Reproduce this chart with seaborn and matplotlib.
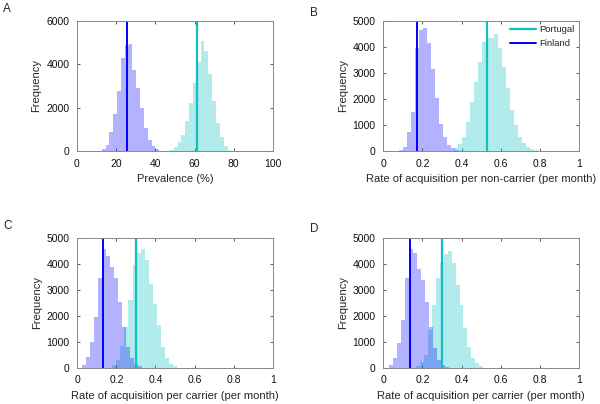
import numpy as np
import pandas as pd
import matplotlib
matplotlib.use("Agg")
import matplotlib.pyplot as plt
import seaborn as sns

# ---------------- data ----------------
# Panel A: prevalence (%)
a_fin_start, a_fin_width = 12.6, 1.96
a_fin_counts = [100, 290, 900, 1700, 2760, 4310, 4900, 4950, 3750, 2890, 1990, 1080, 525, 240, 90]
a_por_start, a_por_width = 47.4, 1.96
a_por_counts = [60, 170, 420, 750, 1400, 2200, 3150, 4110, 5080, 4620, 3560, 2330, 1310, 640, 215, 65]
a_lines = {"Finland": 25.5, "Portugal": 61.0}

# Panel B: rate of acquisition per non-carrier
b_fin_start, b_fin_width = 0.082, 0.0204
b_fin_counts = [50, 165, 715, 1500, 3950, 4640, 4720, 4150, 3150, 2020, 1030, 550, 230, 100, 40]
b_por_start, b_por_width = 0.36, 0.0204
b_por_counts = [110, 260, 550, 1100, 1880, 2660, 3400, 4190, 4350, 4350, 4480, 3940, 3240,
                2400, 1570, 1000, 550, 300, 165, 75, 40]
b_lines = {"Finland": 0.17, "Portugal": 0.532}

# Panel C: rate of acquisition per carrier
c_fin_start, c_fin_width = 0.024, 0.0205
c_fin_counts = [95, 400, 970, 1940, 3440, 4550, 4300, 3880, 3450, 2530, 1560, 800, 360, 155, 50]
c_por_start, c_por_width = 0.18, 0.0205
c_por_counts = [90, 300, 850, 1550, 2600, 3950, 4420, 4550, 4130, 3230, 2460, 1630, 800, 370, 150, 60]
c_lines = {"Finland": 0.13, "Portugal": 0.298}

# Panel D: rate of acquisition per carrier
d_fin_start, d_fin_width = 0.031, 0.0204
d_fin_counts = [100, 360, 950, 1850, 3440, 4550, 4400, 3800, 3370, 2540, 1580, 760, 310, 110, 40]
d_por_start, d_por_width = 0.165, 0.0204
d_por_counts = [80, 230, 500, 1450, 2420, 3440, 4010, 4370, 4500, 4010, 3180, 2410, 1510, 810, 360, 165, 65]
d_lines = {"Finland": 0.134, "Portugal": 0.302}

panel_letters = ["A", "B", "C", "D"]
x_labels = ["Prevalence (%)",
            "Rate of acquisition per non-carrier (per month)",
            "Rate of acquisition per carrier (per month)",
            "Rate of acquisition per carrier (per month)"]
y_label = "Frequency"
a_xticks = [0, 20, 40, 60, 80, 100]
rate_xticks = [0, 0.2, 0.4, 0.6, 0.8, 1]
rate_xticklabels = ["0", "0.2", "0.4", "0.6", "0.8", "1"]
a_yticks = [0, 2000, 4000, 6000]
rate_yticks = [0, 1000, 2000, 3000, 4000, 5000]

# ---------------- style ----------------
sns.set_style("ticks")
plt.rcParams['font.family'] = ['Liberation Sans', 'DejaVu Sans']

fin_color = (0.0, 0.0, 1.0)
por_color = (0.0, 0.75, 0.75)
fin_line = "#0000ff"
por_line = "#12bfbf"

fig = plt.figure(figsize=(6.0, 4.04), dpi=100)
W, H = 600.0, 404.0
boxes = [(77.0, 21.0, 273.0, 151.0),
         (383.3, 20.7, 579.0, 151.0),
         (77.3, 237.7, 272.7, 367.7),
         (383.3, 237.7, 579.0, 367.7)]

panels = [
    (a_fin_start, a_fin_width, a_fin_counts, a_por_start, a_por_width, a_por_counts, a_lines,
     (0, 100), a_xticks, [str(t) for t in a_xticks], (0, 6000), a_yticks),
    (b_fin_start, b_fin_width, b_fin_counts, b_por_start, b_por_width, b_por_counts, b_lines,
     (0, 1), rate_xticks, rate_xticklabels, (0, 5000), rate_yticks),
    (c_fin_start, c_fin_width, c_fin_counts, c_por_start, c_por_width, c_por_counts, c_lines,
     (0, 1), rate_xticks, rate_xticklabels, (0, 5000), rate_yticks),
    (d_fin_start, d_fin_width, d_fin_counts, d_por_start, d_por_width, d_por_counts, d_lines,
     (0, 1), rate_xticks, rate_xticklabels, (0, 5000), rate_yticks),
]

letter_pos = [(3, 12), (310, 16), (3, 229), (310, 232)]

for i, (box, p) in enumerate(zip(boxes, panels)):
    (fs, fw, fc, ps, pw, pc, lines, xlim, xt, xtl, ylim, yt) = p
    l, t, r, b = box
    ax = fig.add_axes([l / W, (H - b) / H, (r - l) / W, (b - t) / H])

    fin_edges = fs + fw * np.arange(len(fc) + 1)
    por_edges = ps + pw * np.arange(len(pc) + 1)
    fin_df = pd.DataFrame({"x": (fin_edges[:-1] + fin_edges[1:]) / 2, "w": fc})
    por_df = pd.DataFrame({"x": (por_edges[:-1] + por_edges[1:]) / 2, "w": pc})

    sns.histplot(data=por_df, x="x", weights="w", bins=list(por_edges), ax=ax,
                 element="step", fill=True, color=por_color, alpha=0.3, linewidth=0)
    sns.histplot(data=fin_df, x="x", weights="w", bins=list(fin_edges), ax=ax,
                 element="step", fill=True, color=fin_color, alpha=0.3, linewidth=0)

    ax.axvline(lines["Portugal"], color=por_line, lw=1.6, label="Portugal")
    ax.axvline(lines["Finland"], color=fin_line, lw=1.4, label="Finland")

    ax.set_xlim(*xlim)
    ax.set_ylim(*ylim)
    ax.set_xticks(xt)
    ax.set_xticklabels(xtl)
    ax.set_yticks(yt)
    ax.set_xlabel(x_labels[i], fontsize=8, labelpad=4)
    ax.set_ylabel(y_label, fontsize=8, labelpad=3.5)
    ax.tick_params(direction="in", length=2.5, width=0.6, labelsize=7.5,
                   top=True, right=True, colors="#444444", labelcolor="#111111")
    ax.tick_params(axis="x", pad=5.5)
    ax.tick_params(axis="y", pad=5.5)
    for s in ax.spines.values():
        s.set_visible(True)
        s.set_color("#888888")
        s.set_linewidth(0.7)

    if i == 1:
        ax.legend(loc="upper right", fontsize=6.8, frameon=False, handlelength=2.8,
                  borderaxespad=0.25, labelspacing=0.55, handletextpad=0.35,
                  borderpad=0.2)

    fig.text(letter_pos[i][0] / W, (H - letter_pos[i][1]) / H, panel_letters[i],
             fontsize=8.5, ha="left", va="baseline")

fig.savefig("out.png", dpi=100)
